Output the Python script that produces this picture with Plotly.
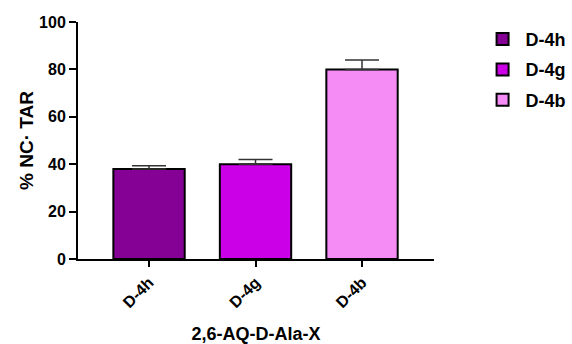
import plotly.graph_objects as go

categories = ["D-4h", "D-4g", "D-4b"]
values = [38.0, 40.0, 80.0]
errors = [1.3, 2.0, 4.0]
colors = ["#850095", "#CC00E6", "#F58CF5"]
y_ticks = [0, 20, 40, 60, 80, 100]

font_family = "Liberation Sans, Arial, sans-serif"

fig = go.Figure()
for cat, val, err, col in zip(categories, values, errors, colors):
    fig.add_trace(go.Bar(
        x=[cat], y=[val], name=cat, legendgroup=cat,
        marker=dict(color=col, line=dict(color="black", width=2)),
        width=0.67,
        error_y=dict(type="data", symmetric=False, array=[err], arrayminus=[0],
                     color="#333333", thickness=1.5, width=17),
    ))

fig.update_layout(
    width=572, height=344,
    margin=dict(l=78, r=138, t=22, b=85, autoexpand=False),
    barmode="overlay",
    plot_bgcolor="white", paper_bgcolor="white",
    font=dict(family=font_family, color="black"),
    showlegend=True,
    legend=dict(x=1.128, y=1.005, xanchor="left", yanchor="top",
                font=dict(size=18, family=font_family, weight="bold"),
                tracegroupgap=4, itemwidth=36),
    xaxis=dict(
        range=[-0.667, 2.676], showline=True, linecolor="black", linewidth=2,
        ticks="outside", ticklen=6, tickwidth=2, tickcolor="black",
        tickangle=-45, tickfont=dict(size=16, weight="bold"),
        title=dict(text="<b>2,6-AQ-D-Ala-X</b>", font=dict(size=18), standoff=18),
        showgrid=False, zeroline=False, automargin=False,
    ),
    yaxis=dict(
        range=[0, 100], tickvals=y_ticks, showline=True, linecolor="black", linewidth=2,
        ticks="outside", ticklen=7, tickwidth=2, tickcolor="black",
        tickfont=dict(size=16, weight="bold"),
        title=dict(text="<b>% NC· TAR</b>", font=dict(size=19), standoff=0),
        showgrid=False, zeroline=False, automargin=False,
    ),
)

fig.write_html(
    "out.html",
    config={"displayModeBar": False},
    post_script="document.body.style.margin='0';document.body.style.overflow='hidden';",
)
